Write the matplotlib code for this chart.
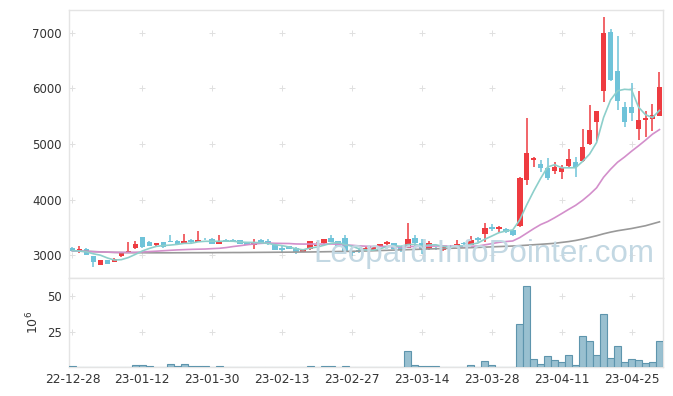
import numpy as np
import matplotlib
matplotlib.use("Agg")
import matplotlib.pyplot as plt

# daily OHLC (KRW), one row of ten trading days per line
opens = [3130, 3050, 3120, 2980, 2820, 2905, 2880, 2985, 3050, 3125,
         3320, 3240, 3180, 3240, 3255, 3255, 3220, 3270, 3245, 3300,
         3300, 3205, 3280, 3275, 3275, 3220, 3180, 3275, 3260, 3190,
         3130, 3160, 3135, 3066, 3108, 3170, 3215, 3310, 3250, 3310,
         3070, 3100, 3108, 3100, 3160, 3197, 3220, 3143, 3130, 3310,
         3215, 3108, 3137, 3100, 3165, 3150, 3220, 3180, 3310, 3390,
         3505, 3470, 3475, 3450, 3530, 4360, 4720, 4640, 4560, 4515,
         4490, 4605, 4670, 4690, 5005, 5400, 5960, 7020, 6320, 5670,
         5660, 5275, 5435, 5445, 5510]
highs = [3150, 3160, 3130, 2990, 2915, 2910, 2950, 3040, 3230, 3255,
         3330, 3250, 3225, 3245, 3360, 3265, 3390, 3290, 3430, 3310,
         3310, 3360, 3290, 3285, 3280, 3230, 3300, 3290, 3290, 3195,
         3180, 3165, 3140, 3115, 3260, 3235, 3290, 3360, 3255, 3370,
         3080, 3105, 3170, 3155, 3210, 3260, 3225, 3150, 3580, 3360,
         3300, 3250, 3145, 3165, 3175, 3270, 3240, 3350, 3330, 3580,
         3560, 3520, 3490, 3460, 4400, 5475, 4775, 4705, 4750, 4675,
         4630, 4915, 4765, 5270, 5710, 5600, 7290, 7067, 6950, 5750,
         6105, 5960, 5600, 5720, 6290]
lows = [3070, 3045, 2995, 2780, 2815, 2835, 2875, 2975, 3045, 3110,
        3130, 3160, 3170, 3125, 3235, 3205, 3205, 3220, 3240, 3270,
        3200, 3195, 3240, 3250, 3205, 3175, 3110, 3215, 3190, 3095,
        3050, 3115, 3030, 3060, 3100, 3165, 3210, 3235, 3140, 3070,
        2990, 3045, 3100, 3095, 3155, 3190, 3115, 3060, 3125, 3100,
        3030, 3100, 3090, 3080, 3140, 3145, 3185, 3175, 3240, 3240,
        3430, 3410, 3405, 3340, 3510, 4255, 4585, 4495, 4360, 4455,
        4375, 4585, 4405, 4675, 4990, 5063, 5750, 6140, 5610, 5300,
        5420, 5075, 5120, 5240, 5510]
closes = [3080, 3120, 3000, 2880, 2910, 2840, 2935, 3035, 3070, 3195,
          3145, 3165, 3220, 3140, 3240, 3210, 3255, 3230, 3270, 3285,
          3210, 3255, 3245, 3260, 3210, 3185, 3245, 3220, 3195, 3100,
          3100, 3120, 3060, 3105, 3255, 3190, 3285, 3240, 3170, 3075,
          3040, 3050, 3137, 3150, 3197, 3240, 3120, 3100, 3300, 3215,
          3085, 3215, 3120, 3160, 3150, 3195, 3200, 3270, 3275, 3495,
          3480, 3500, 3425, 3370, 4390, 4840, 4740, 4575, 4390, 4595,
          4565, 4735, 4585, 4955, 5255, 5600, 6990, 6160, 5780, 5390,
          5555, 5440, 5465, 5530, 6030]

# volume in millions of shares
volumes = [0.9, 0.1, 0.1, 0.1, 0.1, 0.1, 0.1, 0.1, 0.6, 1.6,
           1.6, 0.9, 0.2, 0.2, 2.3, 0.8, 2.3, 0.9, 0.9, 0.9,
           0.2, 0.9, 0.1, 0.1, 0.1, 0.1, 0.1, 0.1, 0.1, 0.1,
           0.1, 0.1, 0.1, 0.1, 0.7, 0.1, 0.7, 0.8, 0.1, 0.7,
           0.1, 0.1, 0.1, 0.1, 0.1, 0.1, 0.1, 0.1, 11.4, 1.6,
           0.9, 0.9, 0.9, 0.1, 0.1, 0.1, 0.1, 1.4, 0.6, 4.4,
           1.4, 0.6, 0.6, 0.2, 30.9, 57.1, 6.3, 2.8, 7.9, 5.6,
           3.7, 9.1, 1.4, 22.5, 18.5, 9.1, 37.9, 7.0, 15.4, 3.7,
           6.3, 5.6, 3.0, 3.7, 18.5]

# moving averages
ma5 = [3080, 3075, 3060, 3025, 3000, 2950, 2913, 2920, 2958, 3015,
       3076, 3122, 3159, 3173, 3182, 3195, 3213, 3215, 3241, 3250,
       3250, 3250, 3253, 3251, 3236, 3231, 3229, 3224, 3211, 3189,
       3172, 3147, 3115, 3097, 3128, 3146, 3179, 3215, 3228, 3192,
       3162, 3115, 3094, 3090, 3115, 3155, 3169, 3161, 3191, 3195,
       3164, 3183, 3187, 3159, 3146, 3168, 3165, 3195, 3218, 3287,
       3344, 3404, 3435, 3454, 3633, 3905, 4153, 4383, 4587, 4628,
       4573, 4572, 4574, 4687, 4819, 5026, 5477, 5792, 5957, 5984,
       5975, 5665, 5526, 5476, 5604]
ma20 = [3075, 3072, 3068, 3063, 3058, 3055, 3052, 3050, 3050, 3052,
        3058, 3065, 3072, 3080, 3088, 3095, 3100, 3105, 3108, 3111,
        3118, 3124, 3137, 3156, 3171, 3188, 3203, 3213, 3219, 3214,
        3212, 3210, 3202, 3200, 3201, 3200, 3201, 3202, 3197, 3186,
        3178, 3168, 3162, 3157, 3156, 3159, 3153, 3147, 3152, 3158,
        3157, 3162, 3165, 3168, 3163, 3163, 3159, 3160, 3165, 3186,
        3208, 3231, 3245, 3256, 3316, 3396, 3477, 3551, 3605, 3674,
        3748, 3824, 3897, 3987, 4092, 4212, 4402, 4546, 4672, 4766,
        4870, 4967, 5069, 5177, 5259]
ma_long = [3080, 3075, 3070, 3065, 3060, 3055, 3050, 3048, 3046, 3045,
           3044, 3043, 3043, 3043, 3043, 3044, 3044, 3045, 3045, 3046,
           3046, 3047, 3047, 3048, 3048, 3049, 3050, 3051, 3052, 3053,
           3054, 3055, 3056, 3057, 3058, 3060, 3062, 3064, 3066, 3068,
           3070, 3073, 3076, 3080, 3084, 3088, 3092, 3096, 3100, 3104,
           3108, 3112, 3116, 3120, 3124, 3128, 3132, 3136, 3140, 3145,
           3150, 3155, 3160, 3165, 3172, 3180, 3188, 3196, 3205, 3214,
           3230, 3245, 3265, 3290, 3320, 3350, 3385, 3415, 3440, 3460,
           3480, 3505, 3530, 3565, 3600]

tick_labels = ["22-12-28", "23-01-12", "23-01-30", "23-02-13", "23-02-27",
               "23-03-14", "23-03-28", "23-04-11", "23-04-25"]
price_ticks = [3000, 4000, 5000, 6000, 7000]
vol_ticks = [25, 50]

UP = '#ee3b40'
DOWN = '#6fc3d9'
FRAME = '#e4e4e4'
TXT = '#333333'

fig = plt.figure(figsize=(6.73, 3.96), dpi=100)
ax = fig.add_axes([0.1025, 0.298, 0.8826, 0.6767])
axv = fig.add_axes([0.1025, 0.072, 0.8826, 0.226], sharex=ax)

x = np.arange(len(closes))
o = np.array(opens)
c = np.array(closes)
colors = np.where(c >= o, UP, DOWN)

# candles: wicks then bodies
ax.vlines(x, lows, highs, colors=colors, linewidth=1.1, zorder=3)
ax.bar(x, np.maximum(np.abs(c - o), 12), 0.8, bottom=np.minimum(o, c),
       color=colors, linewidth=0, zorder=4)

# moving averages on top of the candles
ax.plot(x, ma_long, color='#999999', lw=1.2, zorder=5)
ax.plot(x, ma20, color='#d38fcb', lw=1.2, zorder=5)
ax.plot(x, ma5, color='#8dcfcb', lw=1.2, zorder=5)

# volume bars
axv.bar(x, volumes, 1.0, color='#99c0d0', edgecolor='#5e95ad', linewidth=0.8, zorder=3)

xt = np.arange(0, len(closes), 10)
ax.set_xlim(-0.5, len(closes) - 0.5)
ax.set_ylim(2590, 7410)
axv.set_ylim(0, 63)

ax.set_yticks(price_ticks)
axv.set_yticks(vol_ticks)
axv.set_xticks(xt)
axv.set_xticklabels(tick_labels)
ax.tick_params(axis='x', labelbottom=False, length=0)
ax.tick_params(axis='y', length=0, pad=5, labelsize=8.5, labelcolor=TXT)
axv.tick_params(axis='y', length=0, pad=5, labelsize=8.5, labelcolor=TXT)
axv.tick_params(axis='x', length=0, pad=4, labelsize=8.8, labelcolor=TXT)
axv.set_ylabel(r'$\mathregular{10^6}$', fontsize=9, color=TXT, labelpad=4)

# frames and "+" grid marks at tick intersections
for a, yt in ((ax, price_ticks), (axv, vol_ticks)):
    for s in a.spines.values():
        s.set_color(FRAME)
        s.set_linewidth(1)
    gx, gy = np.meshgrid(xt, yt)
    a.scatter(gx.ravel(), gy.ravel(), marker='+', s=14, color='#e0e0e0',
              linewidths=0.7, zorder=1)

# watermark
fig.text(313 / 673, 1 - 262 / 396, "Leopard.InfoPointer.com", fontsize=22.5,
         family='Liberation Sans', color='#c3d8e3', va='baseline', ha='left',
         zorder=0.5)

fig.savefig("out.png", dpi=100)
